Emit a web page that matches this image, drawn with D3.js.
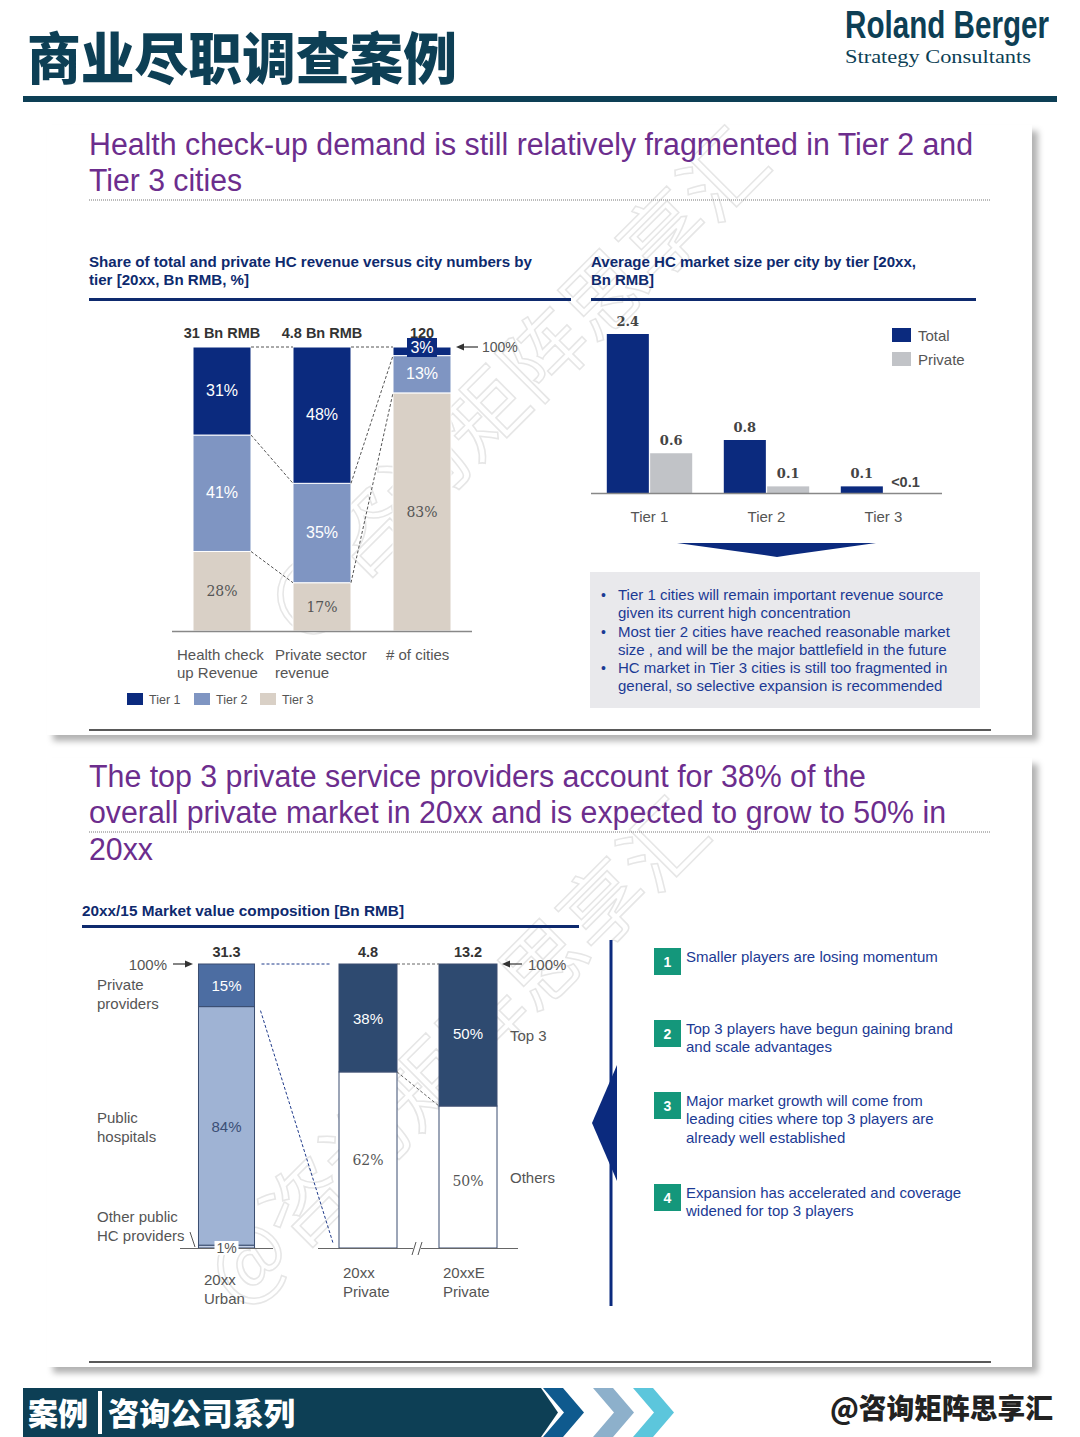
<!DOCTYPE html>
<html>
<head>
<meta charset="utf-8">
<script src="https://cdn.jsdelivr.net/npm/d3@7"></script>
<style>
  body { margin: 0; background: #fff; }
  svg { display: block; font-family: "Liberation Sans", Arial, sans-serif; }
</style>
</head>
<body>
<div id="chart"></div>
<script>
// ---- data ----
var tierNames    = ["Tier 1", "Tier 2", "Tier 3"];
var shareCats    = ["Health check up Revenue", "Private sector revenue", "# of cities"];
var shareTotals  = ["31 Bn RMB", "4.8 Bn RMB", "120"];
var tier1Share   = [31, 48, 3];
var tier2Share   = [41, 35, 13];
var tier3Share   = [28, 17, 83];

var avgSeries    = ["Total", "Private"];
var avgTotal     = [2.4, 0.8, 0.1];
var avgPrivate   = [0.6, 0.1, 0];
var avgTotalLbl  = ["2.4", "0.8", "0.1"];
var avgPrivLbl   = ["0.6", "0.1", "<0.1"];

var bullets = [
  ["Tier 1 cities will remain important revenue source", "given its current high concentration"],
  ["Most tier 2 cities have reached reasonable market", "size , and will be the major battlefield in the future"],
  ["HC market in Tier 3 cities  is still too fragmented in", "general, so selective expansion is recommended"]
];

var urbanCat     = ["20xx Urban"];
var urbanTotal   = "31.3";
var urbanParts   = ["Private providers", "Public hospitals", "Other public HC providers"];
var urbanShare   = [15, 84, 1];

var privCats     = ["20xx Private", "20xxE Private"];
var privTotals   = ["4.8", "13.2"];
var top3Share    = [38, 50];
var othersShare  = [62, 50];

var findings = [
  ["Smaller players are losing momentum"],
  ["Top 3 players have begun gaining brand", "and scale advantages"],
  ["Major market growth will come from", "leading cities where top 3 players are", "already well established"],
  ["Expansion has accelerated and coverage", "widened for top 3 players"]
];

// ---- colours ----
var navy = "#0b2a7e", tier2C = "#7f95c2", tier3C = "#d9d0c6", privGray = "#c1c3c7";
var purple = "#6c2d8d", textNavy = "#1b3a94", teal = "#0d3f55", green = "#14977b";

var W = 1080, H = 1437;
var svg = d3.select("#chart").append("svg").attr("width", W).attr("height", H);

var defs = svg.append("defs");
var sh = defs.append("filter").attr("id", "shadow").attr("x", "-5%").attr("y", "-5%").attr("width", "110%").attr("height", "115%");
sh.append("feDropShadow").attr("dx", 6).attr("dy", 6).attr("stdDeviation", 3).attr("flood-color", "#000").attr("flood-opacity", 0.3);

function lines(g, arr, x, y, lh, attrs) {
  var t = g.append("text").attr("x", x).attr("y", y);
  for (var k in attrs) t.attr(k, attrs[k]);
  arr.forEach(function (s, i) {
    t.append("tspan").attr("x", x).attr("y", y + i * lh).text(s);
  });
  return t;
}

// ---- header ----
svg.append("text").attr("x", 27).attr("y", 79)
  .attr("font-family", "Noto Sans CJK SC").attr("font-weight", 900).attr("font-size", 56)
  .attr("fill", teal).attr("textLength", 430).attr("lengthAdjust", "spacingAndGlyphs")
  .text("商业尽职调查案例");
svg.append("text").attr("transform", "translate(845,38) scale(1,1.2)")
  .attr("font-weight", "bold").attr("font-size", 33).attr("fill", teal)
  .attr("textLength", 204).attr("lengthAdjust", "spacingAndGlyphs")
  .text("Roland Berger");
svg.append("text").attr("x", 845).attr("y", 63)
  .attr("font-family", "Liberation Serif, serif").attr("font-size", 19).attr("fill", teal)
  .attr("textLength", 186).attr("lengthAdjust", "spacingAndGlyphs")
  .text("Strategy Consultants");
svg.append("rect").attr("x", 23).attr("y", 96).attr("width", 1034).attr("height", 6).attr("fill", teal);

// ---- cards ----
[[125, 735], [758, 1367]].forEach(function (c) {
  svg.append("rect").attr("x", 47).attr("y", c[0]).attr("width", 985).attr("height", c[1] - c[0])
    .attr("fill", "#fff").attr("filter", "url(#shadow)");
});

// watermark
[[300, 640], [240, 1310]].forEach(function (p) {
  svg.append("text").attr("transform", "translate(" + p[0] + "," + p[1] + ") rotate(-45)")
    .attr("font-family", "Noto Sans CJK SC").attr("font-size", 82)
    .attr("fill", "none").attr("stroke", "#e6e6e6").attr("stroke-width", 1.5)
    .attr("textLength", 670).attr("lengthAdjust", "spacingAndGlyphs")
    .text("@咨询矩阵思享汇");
});

// ---- card 1 titles ----
var g1 = svg.append("g");
[["Health check-up demand is still relatively fragmented in Tier 2 and", 155, 884],
 ["Tier 3 cities", 191, 153]].forEach(function (d) {
  g1.append("text").attr("x", 89).attr("y", d[1]).attr("font-size", 31).attr("fill", purple)
    .attr("textLength", d[2]).attr("lengthAdjust", "spacingAndGlyphs").text(d[0]);
});
g1.append("line").attr("x1", 89).attr("x2", 991).attr("y1", 200).attr("y2", 200)
  .attr("stroke", "#777").attr("stroke-dasharray", "1,1");
g1.append("line").attr("x1", 89).attr("x2", 991).attr("y1", 730).attr("y2", 730)
  .attr("stroke", "#222").attr("stroke-width", 1.5);

[["Share of total and private HC revenue versus city numbers by", 89, 267, 443],
 ["tier [20xx, Bn RMB, %]", 89, 285, 160],
 ["Average HC market size per city by tier [20xx,", 591, 267, 325],
 ["Bn RMB]", 591, 285, 63]].forEach(function (d) {
  g1.append("text").attr("x", d[1]).attr("y", d[2]).attr("font-size", 15).attr("font-weight", "bold")
    .attr("fill", "#0e2a6e").attr("textLength", d[3]).attr("lengthAdjust", "spacingAndGlyphs").text(d[0]);
});
g1.append("rect").attr("x", 89).attr("y", 298).attr("width", 482).attr("height", 3).attr("fill", "#0e2a6e");
g1.append("rect").attr("x", 591).attr("y", 298).attr("width", 385).attr("height", 3).attr("fill", "#0e2a6e");

// ---- chart A: stacked share ----
var shareRows = shareCats.map(function (c, i) {
  return { cat: c, t1: tier1Share[i], t2: tier2Share[i], t3: tier3Share[i] };
});
var xA = d3.scaleBand().domain(shareCats).range([172, 472]).paddingInner(0.42).paddingOuter(0.21);
var yA = d3.scaleLinear().domain([0, 1]).range([631, 347]);
var stackA = d3.stack().keys(["t3", "t2", "t1"]).offset(d3.stackOffsetExpand)(shareRows);
var colA = { t1: navy, t2: tier2C, t3: tier3C };

var gA = svg.append("g");
stackA.forEach(function (layer) {
  gA.selectAll(null).data(layer).enter().append("rect")
    .attr("x", function (d) { return xA(d.data.cat); })
    .attr("width", xA.bandwidth())
    .attr("y", function (d) { return yA(d[1]); })
    .attr("height", function (d) { return yA(d[0]) - yA(d[1]); })
    .attr("fill", colA[layer.key])
    .attr("stroke", "#fff").attr("stroke-width", 1);
});

// connector dashed lines between columns
function edgeY(col, key, top) {
  var layer = stackA.find(function (l) { return l.key === key; });
  return yA(top ? layer[col][1] : layer[col][0]);
}
var conn = [
  [0, "t1", true, 1, "t1", true],
  [1, "t1", true, 2, "t1", true],
  [0, "t1", false, 1, "t1", false],
  [0, "t2", false, 1, "t2", false],
  [1, "t1", false, 2, "t1", false],
  [1, "t2", false, 2, "t2", false]
];
conn.forEach(function (c) {
  gA.append("line")
    .attr("x1", xA(shareCats[c[0]]) + xA.bandwidth()).attr("y1", edgeY(c[0], c[1], c[2]))
    .attr("x2", xA(shareCats[c[3]])).attr("y2", edgeY(c[3], c[4], c[5]))
    .attr("stroke", "#555").attr("stroke-width", 1).attr("stroke-dasharray", "3,2");
});

gA.append("line").attr("x1", 172).attr("x2", 472).attr("y1", 631.5).attr("y2", 631.5)
  .attr("stroke", "#888").attr("stroke-width", 1.5);

// value labels
stackA.forEach(function (layer) {
  layer.forEach(function (d, i) {
    var cx = xA(d.data.cat) + xA.bandwidth() / 2;
    var val = d.data[layer.key];
    var cy = (yA(d[0]) + yA(d[1])) / 2 + 5;
    if (layer.key === "t1" && val < 5) {
      cy = yA(d[1]) + 5;
      gA.append("rect").attr("x", cx - 15).attr("y", cy - 14).attr("width", 30).attr("height", 19).attr("fill", navy);
      cy = cy + 1;
    }
    var t = gA.append("text").attr("x", cx).attr("y", cy).attr("text-anchor", "middle").text(val + "%");
    if (layer.key === "t3") {
      t.attr("font-family", "DejaVu Serif, serif").attr("font-size", 14).attr("fill", "#555");
    } else {
      t.attr("font-size", 16).attr("fill", "#fff");
    }
  });
});
shareTotals.forEach(function (s, i) {
  gA.append("text").attr("x", xA(shareCats[i]) + xA.bandwidth() / 2).attr("y", 338)
    .attr("text-anchor", "middle").attr("font-size", 14.5).attr("font-weight", "bold").attr("fill", "#333").text(s);
});
gA.append("line").attr("x1", 478).attr("x2", 460).attr("y1", 347).attr("y2", 347).attr("stroke", "#333").attr("stroke-width", 1.2);
gA.append("path").attr("d", "M456,347 L464,343.5 L464,350.5 Z").attr("fill", "#333");
gA.append("text").attr("x", 482).attr("y", 352).attr("font-size", 14).attr("fill", "#555").text("100%");

var catLines = [["Health check", "up Revenue"], ["Private sector", "revenue"], ["# of cities"]];
var catX = [177, 275, 386];
catLines.forEach(function (l, i) {
  lines(gA, l, catX[i], 660, 18, { "font-size": 15, "fill": "#555" });
});
var legA = gA.selectAll(".legA").data(tierNames).enter().append("g")
  .attr("transform", function (d, i) { return "translate(" + [127, 194, 260][i] + ",693)"; });
legA.append("rect").attr("width", 16).attr("height", 12).attr("fill", function (d, i) { return [navy, tier2C, tier3C][i]; });
legA.append("text").attr("x", 22).attr("y", 11).attr("font-size", 12.5).attr("fill", "#555").text(function (d) { return d; });

// ---- chart B: average market size ----
var gB = svg.append("g");
var x0B = d3.scaleBand().domain(tierNames).range([591, 942]).paddingInner(0.27).paddingOuter(0.135);
var x1B = d3.scaleBand().domain(avgSeries).range([0, x0B.bandwidth()]).paddingInner(0.03);
var yB = d3.scaleLinear().domain([0, 2.4]).range([493, 334]);
var avgRows = tierNames.map(function (t, i) {
  return { tier: t, vals: [
    { s: "Total", v: avgTotal[i], lbl: avgTotalLbl[i] },
    { s: "Private", v: avgPrivate[i], lbl: avgPrivLbl[i] }] };
});
var grp = gB.selectAll(".grp").data(avgRows).enter().append("g")
  .attr("transform", function (d) { return "translate(" + x0B(d.tier) + ",0)"; });
grp.selectAll("rect").data(function (d) { return d.vals; }).enter().append("rect")
  .attr("x", function (d) { return x1B(d.s); })
  .attr("width", x1B.bandwidth())
  .attr("y", function (d) { return yB(d.v); })
  .attr("height", function (d) { return yB(0) - yB(d.v); })
  .attr("fill", function (d) { return d.s === "Total" ? navy : privGray; });
grp.selectAll("text.v").data(function (d) { return d.vals; }).enter().append("text")
  .attr("x", function (d) { return d.lbl[0] === "<" ? x1B(d.s) + 7 : x1B(d.s) + x1B.bandwidth() / 2; })
  .attr("y", function (d) { return d.lbl[0] === "<" ? 487 : yB(d.v) - 8; })
  .attr("text-anchor", function (d) { return d.lbl[0] === "<" ? "start" : "middle"; })
  .attr("font-family", function (d) { return d.lbl[0] === "<" ? "Liberation Sans" : "DejaVu Serif, serif"; })
  .attr("font-weight", "bold")
  .attr("font-size", function (d) { return d.lbl[0] === "<" ? 14.5 : 13; })
  .attr("fill", "#444")
  .text(function (d) { return d.lbl; });
gB.append("line").attr("x1", 591).attr("x2", 942).attr("y1", 493.5).attr("y2", 493.5).attr("stroke", "#888").attr("stroke-width", 1.5);
gB.selectAll(".tl").data(tierNames).enter().append("text")
  .attr("x", function (d) { return x0B(d) + x0B.bandwidth() / 2; }).attr("y", 522)
  .attr("text-anchor", "middle").attr("font-size", 15).attr("fill", "#555").text(function (d) { return d; });
avgSeries.forEach(function (s, i) {
  gB.append("rect").attr("x", 892).attr("y", 328 + i * 24).attr("width", 19).attr("height", 14).attr("fill", i ? privGray : navy);
  gB.append("text").attr("x", 918).attr("y", 341 + i * 24).attr("font-size", 15).attr("fill", "#555").text(s);
});
gB.append("path").attr("d", "M677,543 L876,543 L790,555 L777,557 L764,555 Z").attr("fill", navy);

// bullets box
gB.append("rect").attr("x", 590).attr("y", 572).attr("width", 390).attr("height", 136).attr("fill", "#e9e9ec");
bullets.forEach(function (b, i) {
  var y = 600 + i * 36.5;
  gB.append("text").attr("x", 601).attr("y", y).attr("font-size", 14).attr("fill", textNavy).text("•");
  lines(gB, b, 618, y, 18.3, { "font-size": 15, "fill": textNavy });
});

// ---- card 2 titles ----
var g2 = svg.append("g");
[["The top 3 private service providers account for 38% of the", 787, 777],
 ["overall private market in 20xx and is expected to grow to 50% in", 823, 857],
 ["20xx", 860, 64]].forEach(function (d) {
  g2.append("text").attr("x", 89).attr("y", d[1]).attr("font-size", 31).attr("fill", purple)
    .attr("textLength", d[2]).attr("lengthAdjust", "spacingAndGlyphs").text(d[0]);
});
g2.append("line").attr("x1", 89).attr("x2", 991).attr("y1", 832).attr("y2", 832)
  .attr("stroke", "#777").attr("stroke-dasharray", "1,1");
g2.append("line").attr("x1", 89).attr("x2", 991).attr("y1", 1362).attr("y2", 1362)
  .attr("stroke", "#222").attr("stroke-width", 1.5);
g2.append("text").attr("x", 82).attr("y", 916).attr("font-size", 15).attr("font-weight", "bold")
  .attr("fill", "#0e2a6e").attr("textLength", 322).attr("lengthAdjust", "spacingAndGlyphs")
  .text("20xx/15 Market value composition [Bn  RMB]");
g2.append("rect").attr("x", 82).attr("y", 925).attr("width", 497).attr("height", 3).attr("fill", "#0e2a6e");

// ---- chart C: market value composition ----
var gC = svg.append("g");
var yC = d3.scaleLinear().domain([0, 1]).range([1248, 964]);
var xU = d3.scaleBand().domain(urbanCat).range([180, 273]).paddingOuter(0.33);
var xP = d3.scaleBand().domain(privCats).range([318, 518]).paddingInner(0.42).paddingOuter(0.21);
var urbanRow = { cat: urbanCat[0], other: urbanShare[2], pub: urbanShare[1], priv: urbanShare[0] };
var stackU = d3.stack().keys(["other", "pub", "priv"]).offset(d3.stackOffsetExpand)([urbanRow]);
var colU = { priv: "#4c6da2", pub: "#9fb3d4", other: "#c3d0e6" };
stackU.forEach(function (layer) {
  gC.selectAll(null).data(layer).enter().append("rect")
    .attr("x", xU(urbanCat[0])).attr("width", xU.bandwidth())
    .attr("y", function (d) { return yC(d[1]); })
    .attr("height", function (d) { return yC(d[0]) - yC(d[1]); })
    .attr("fill", colU[layer.key]).attr("stroke", "#3a4d70").attr("stroke-width", 1);
});
var privRows = privCats.map(function (c, i) { return { cat: c, others: othersShare[i], top3: top3Share[i] }; });
var stackP = d3.stack().keys(["others", "top3"]).offset(d3.stackOffsetExpand)(privRows);
stackP.forEach(function (layer) {
  gC.selectAll(null).data(layer).enter().append("rect")
    .attr("x", function (d) { return xP(d.data.cat); }).attr("width", xP.bandwidth())
    .attr("y", function (d) { return yC(d[1]); })
    .attr("height", function (d) { return yC(d[0]) - yC(d[1]); })
    .attr("fill", layer.key === "top3" ? "#2e4a70" : "#fff")
    .attr("stroke", "#3a4d70").attr("stroke-width", 1);
});
// baselines
gC.append("line").attr("x1", 180).attr("x2", 273).attr("y1", 1248.5).attr("y2", 1248.5).attr("stroke", "#666").attr("stroke-width", 1.2);
gC.append("line").attr("x1", 318).attr("x2", 518).attr("y1", 1248.5).attr("y2", 1248.5).attr("stroke", "#666").attr("stroke-width", 1.2);
gC.append("rect").attr("x", 413).attr("y", 1246).attr("width", 8).attr("height", 5).attr("fill", "#fff");
gC.append("path").attr("d", "M412,1255 L416,1242 M418,1255 L422,1242").attr("stroke", "#555").attr("stroke-width", 1);

// connectors
var uR = xU(urbanCat[0]) + xU.bandwidth();
var privTop = stackU[2][0];
gC.append("line").attr("x1", uR + 7).attr("y1", yC(privTop[1])).attr("x2", xP(privCats[0]) - 8).attr("y2", yC(privTop[1]))
  .attr("stroke", "#1f3a8a").attr("stroke-dasharray", "3,2");
gC.append("line").attr("x1", uR + 6).attr("y1", yC(privTop[0]) + 4).attr("x2", xP(privCats[0]) - 6).attr("y2", yC(0) - 5)
  .attr("stroke", "#1f3a8a").attr("stroke-dasharray", "3,2");
var p0 = xP(privCats[0]) + xP.bandwidth(), p1 = xP(privCats[1]);
gC.append("line").attr("x1", p0).attr("y1", yC(1)).attr("x2", p1).attr("y2", yC(1))
  .attr("stroke", "#666").attr("stroke-dasharray", "3,2");
gC.append("line").attr("x1", p0).attr("y1", yC(stackP[1][0][0])).attr("x2", p1).attr("y2", yC(stackP[1][1][0]))
  .attr("stroke", "#666").attr("stroke-dasharray", "3,2");

// labels
var uc = xU(urbanCat[0]) + xU.bandwidth() / 2;
gC.append("text").attr("x", uc).attr("y", yC((stackU[2][0][0] + stackU[2][0][1]) / 2) + 6).attr("text-anchor", "middle")
  .attr("font-size", 15).attr("fill", "#fff").text(urbanShare[0] + "%");
gC.append("text").attr("x", uc).attr("y", yC((stackU[1][0][0] + stackU[1][0][1]) / 2) + 6).attr("text-anchor", "middle")
  .attr("font-size", 15).attr("fill", "#3b4f76").text(urbanShare[1] + "%");
gC.append("rect").attr("x", uc - 12).attr("y", 1241).attr("width", 24).attr("height", 14).attr("fill", "#fff");
gC.append("text").attr("x", uc).attr("y", 1253).attr("text-anchor", "middle")
  .attr("font-size", 14).attr("fill", "#555").text(urbanShare[2] + "%");
privRows.forEach(function (r, i) {
  var cx = xP(r.cat) + xP.bandwidth() / 2;
  var top = stackP[1][i], oth = stackP[0][i];
  gC.append("text").attr("x", cx).attr("y", yC((top[0] + top[1]) / 2) + 6 - (i === 0 ? 0 : 2))
    .attr("text-anchor", "middle").attr("font-size", 15).attr("fill", "#fff").text(r.top3 + "%");
  gC.append("text").attr("x", cx).attr("y", yC((oth[0] + oth[1]) / 2) + 5 + (i === 0 ? 0 : 4))
    .attr("text-anchor", "middle").attr("font-family", "DejaVu Serif, serif").attr("font-size", 14).attr("fill", "#555").text(r.others + "%");
  gC.append("text").attr("x", cx).attr("y", 957).attr("text-anchor", "middle")
    .attr("font-size", 14.5).attr("font-weight", "bold").attr("fill", "#333").text(privTotals[i]);
});
gC.append("text").attr("x", uc).attr("y", 957).attr("text-anchor", "middle")
  .attr("font-size", 14.5).attr("font-weight", "bold").attr("fill", "#333").text(urbanTotal);

// 100% arrows
gC.append("text").attr("x", 167).attr("y", 970).attr("text-anchor", "end").attr("font-size", 15).attr("fill", "#555").text("100%");
gC.append("line").attr("x1", 173).attr("x2", 187).attr("y1", 964).attr("y2", 964).attr("stroke", "#333").attr("stroke-width", 1.2);
gC.append("path").attr("d", "M193,964 L185,960.5 L185,967.5 Z").attr("fill", "#333");
gC.append("line").attr("x1", 522).attr("x2", 508).attr("y1", 964).attr("y2", 964).attr("stroke", "#333").attr("stroke-width", 1.2);
gC.append("path").attr("d", "M502,964 L510,960.5 L510,967.5 Z").attr("fill", "#333");
gC.append("text").attr("x", 528).attr("y", 970).attr("font-size", 15).attr("fill", "#555").text("100%");

var partLines = [["Private", "providers"], ["Public", "hospitals"], ["Other public", "HC providers"]];
var partY = [990, 1123, 1222];
partLines.forEach(function (l, i) {
  lines(gC, l, 97, partY[i], 18.5, { "font-size": 15, "fill": "#555" });
});
gC.append("line").attr("x1", 190).attr("y1", 1232).attr("x2", 195).attr("y2", 1247).attr("stroke", "#555");
gC.append("text").attr("x", 510).attr("y", 1041).attr("font-size", 15).attr("fill", "#555").text("Top 3");
gC.append("text").attr("x", 510).attr("y", 1183).attr("font-size", 15).attr("fill", "#555").text("Others");

lines(gC, ["20xx", "Urban"], 204, 1285, 18.5, { "font-size": 15, "fill": "#555" });
privCats.forEach(function (c, i) {
  var parts = c.split(" ");
  lines(gC, parts, xP(c) + 4, 1278, 18.5, { "font-size": 15, "fill": "#555" });
});

// ---- findings list ----
var gD = svg.append("g");
gD.append("rect").attr("x", 609.5).attr("y", 940).attr("width", 3).attr("height", 366).attr("fill", navy);
gD.append("path").attr("d", "M617,1065 L592,1123 L617,1181 Z").attr("fill", navy);
var boxY = [948, 1020, 1092, 1184];
findings.forEach(function (f, i) {
  gD.append("rect").attr("x", 654).attr("y", boxY[i]).attr("width", 27).attr("height", 27).attr("fill", green);
  gD.append("text").attr("x", 667.5).attr("y", boxY[i] + 19).attr("text-anchor", "middle")
    .attr("font-size", 14).attr("font-weight", "bold").attr("fill", "#fff").text(i + 1);
  lines(gD, f, 686, boxY[i] + 14, 18.3, { "font-size": 15, "fill": textNavy });
});

// ---- footer ----
var gF = svg.append("g");
gF.append("path").attr("d", "M23,1388 L541,1388 L558,1412.5 L541,1437 L23,1437 Z").attr("fill", teal);
[["#0f5a8e", 543], ["#8db0cb", 593], ["#5cc6dc", 633]].forEach(function (c) {
  var x = c[1];
  gF.append("path").attr("d", "M" + x + ",1388 L" + (x + 20) + ",1388 L" + (x + 41) + ",1412.5 L" + (x + 20) + ",1437 L" + x + ",1437 L" + (x + 21) + ",1412.5 Z")
    .attr("fill", c[0]);
});
gF.append("text").attr("x", 28).attr("y", 1425).attr("font-family", "Noto Sans CJK SC").attr("font-weight", 900)
  .attr("font-size", 31).attr("fill", "#fff").attr("textLength", 60).attr("lengthAdjust", "spacingAndGlyphs").text("案例");
gF.append("rect").attr("x", 98).attr("y", 1391).attr("width", 4).attr("height", 43).attr("fill", "#fff");
gF.append("text").attr("x", 108).attr("y", 1425).attr("font-family", "Noto Sans CJK SC").attr("font-weight", 900)
  .attr("font-size", 31).attr("fill", "#fff").attr("textLength", 187).attr("lengthAdjust", "spacingAndGlyphs").text("咨询公司系列");
gF.append("text").attr("x", 830).attr("y", 1419).attr("font-family", "Noto Sans CJK SC").attr("font-weight", 900)
  .attr("font-size", 28).attr("fill", "#222").attr("textLength", 223).attr("lengthAdjust", "spacingAndGlyphs").text("@咨询矩阵思享汇");
</script>
</body>
</html>
